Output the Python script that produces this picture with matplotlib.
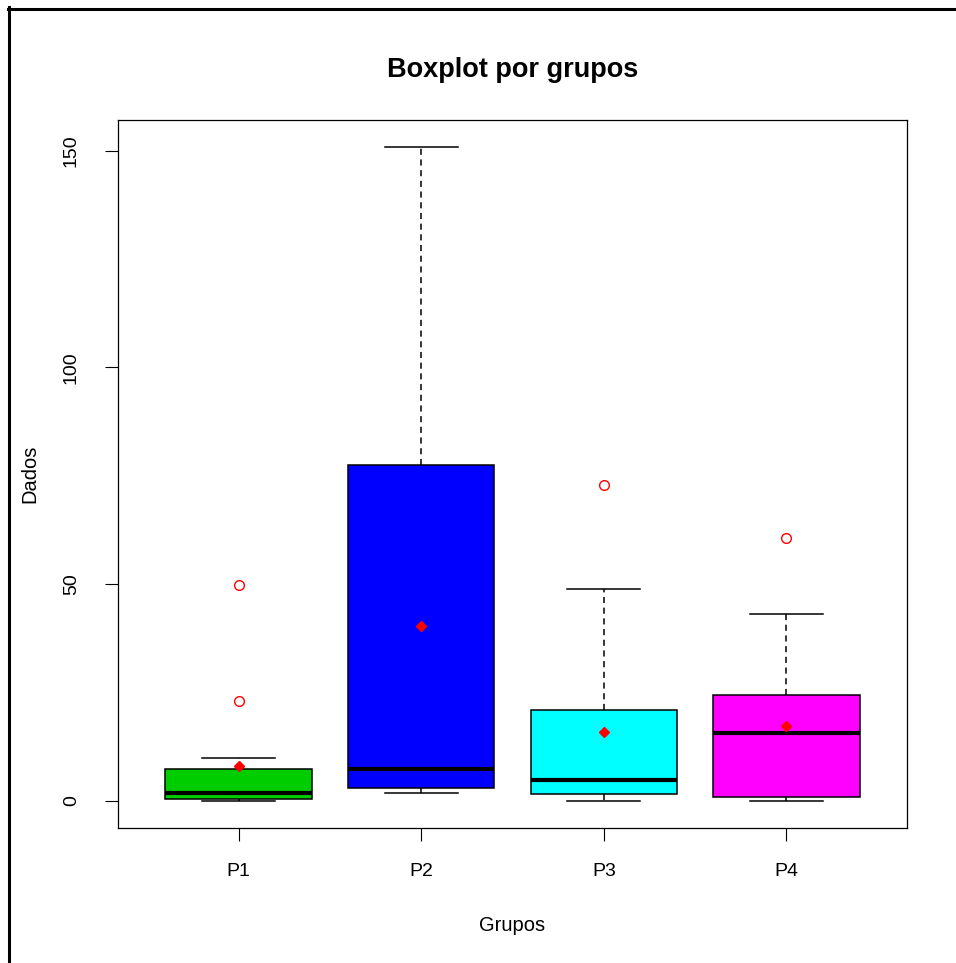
import matplotlib
matplotlib.use("Agg")
import matplotlib.pyplot as plt
from matplotlib.lines import Line2D

# valores
grupos = ["P1", "P2", "P3", "P4"]
q1 = [0.4, 2.9, 1.5, 0.8]
medianas = [1.8, 7.3, 4.7, 15.7]
q3 = [7.3, 77.4, 21.0, 24.5]
bigode_inf = [0.0, 1.7, 0.0, 0.0]
bigode_sup = [9.9, 150.8, 48.8, 43.0]
outliers = [[22.9, 49.7], [], [72.8], [60.7]]
medias = [8.0, 40.3, 15.9, 17.3]
cores = ["#00CD00", "#0000FF", "#00FFFF", "#FF00FF"]

plt.rcParams["font.family"] = ["Liberation Sans", "DejaVu Sans"]

fig = plt.figure(figsize=(9.56, 9.63), dpi=100)
ax = fig.add_axes([118 / 956, 1 - 828 / 963, (907 - 118) / 956, (828 - 120) / 963])

stats = []
for i, g in enumerate(grupos):
    stats.append({
        "label": g,
        "q1": q1[i], "med": medianas[i], "q3": q3[i],
        "whislo": bigode_inf[i], "whishi": bigode_sup[i],
        "fliers": outliers[i],
    })

posicoes = list(range(1, len(grupos) + 1))
bp = ax.bxp(stats, positions=posicoes, widths=0.8, patch_artist=True,
            showfliers=True,
            boxprops=dict(edgecolor="black", linewidth=1.1),
            medianprops=dict(color="black", linewidth=3.0, solid_capstyle="butt"),
            whiskerprops=dict(color="black", linewidth=1.1, linestyle=(0, (4, 3))),
            capprops=dict(color="black", linewidth=1.1),
            capwidths=0.4,
            flierprops=dict(marker="o", markerfacecolor="none", markeredgecolor="red",
                            markersize=7, markeredgewidth=1.0))
for patch, c in zip(bp["boxes"], cores):
    patch.set_facecolor(c)

ax.plot(posicoes, medias, linestyle="none", marker="D", color="red", markersize=5.5, zorder=5)

ax.set_xlim(0.34, 4.66)
ax.set_ylim(-6.3, 157.05)
ax.set_yticks([0, 50, 100, 150])
ax.set_xticks(posicoes)
ax.set_xticklabels(grupos)
for lbl in ax.get_yticklabels():
    lbl.set_rotation(90)
    lbl.set_va("center")
ax.tick_params(axis="x", length=9.5, width=0.8, pad=15.5, labelsize=14, colors="black")
ax.tick_params(axis="y", length=9.5, width=0.8, pad=18, labelsize=14, colors="black")
for s in ax.spines.values():
    s.set_linewidth(0.9)

ax.set_title("Boxplot por grupos", fontsize=19.5, fontweight="bold", pad=31)
ax.set_xlabel("Grupos", fontsize=14.5, labelpad=26)
ax.set_ylabel("Dados", fontsize=14.5, labelpad=17)

# moldura da figura (so topo e esquerda)
fig.add_artist(Line2D([7.5 / 956, 1.0], [1 - 8.7 / 963, 1 - 8.7 / 963],
                      transform=fig.transFigure, color="black", linewidth=2.2))
fig.add_artist(Line2D([8.7 / 956, 8.7 / 956], [0.0, 1 - 7.5 / 963],
                      transform=fig.transFigure, color="black", linewidth=2.2))

fig.savefig("out.png", dpi=100)
